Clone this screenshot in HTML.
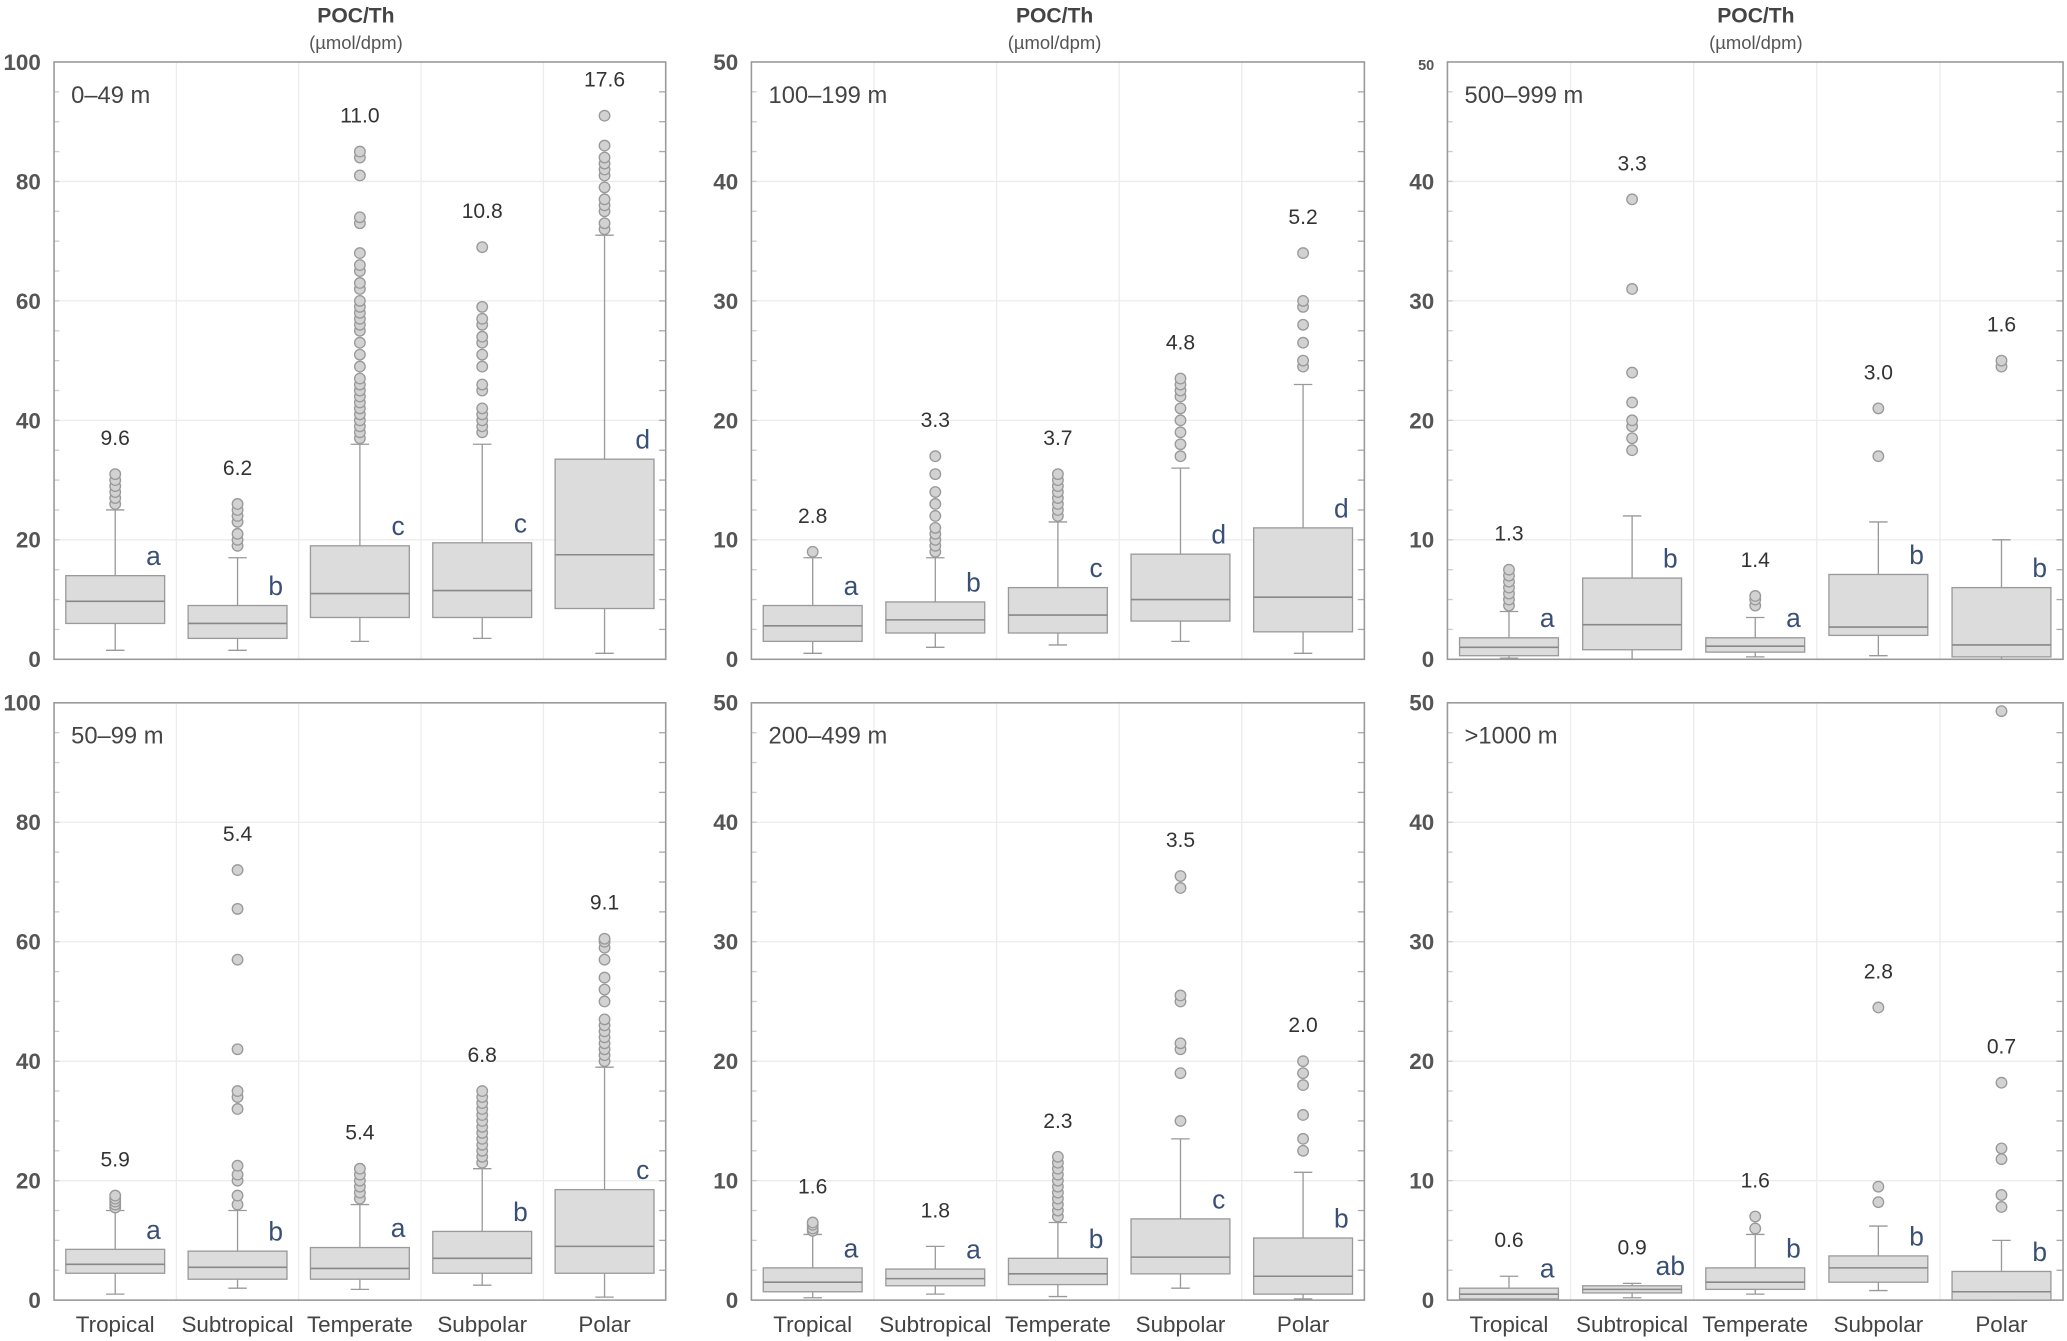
<!DOCTYPE html>
<html><head><meta charset="utf-8"><style>
html,body{margin:0;padding:0;background:#fff;}
svg{display:block;font-family:"Liberation Sans",sans-serif;}
</style></head><body>
<svg id="chart" width="2067" height="1341" viewBox="0 0 1568 1017" preserveAspectRatio="none" xmlns="http://www.w3.org/2000/svg"></svg>
<script>
const categories = ["Tropical","Subtropical","Temperate","Subpolar","Polar"];
const panelTitles = ["0–49 m","50–99 m","100–199 m","200–499 m","500–999 m",">1000 m"];
const panelMax = [100,100,50,50,50,50];
const panelTicks = [[0,20,40,60,80,100],[0,20,40,60,80,100],[0,10,20,30,40,50],[0,10,20,30,40,50],[0,10,20,30,40,50],[0,10,20,30,40,50]];
// [q1, median, q3, whiskerLow, whiskerHigh]
const statsA = [[6,9.7,14,1.5,25],[3.5,6,9,1.5,17],[7,11,19,3,36],[7,11.5,19.5,3.5,36],[8.5,17.5,33.5,1,71]];
const statsB = [[4.5,6,8.5,1,15],[3.5,5.5,8.2,2,15],[3.5,5.3,8.8,1.8,16],[4.5,7,11.5,2.5,22],[4.5,9,18.5,0.5,39]];
const statsC = [[1.5,2.8,4.5,0.5,8.5],[2.2,3.3,4.8,1,8.5],[2.2,3.7,6,1.2,11.5],[3.2,5,8.8,1.5,16],[2.3,5.2,11,0.5,23]];
const statsD = [[0.7,1.5,2.7,0.2,5.5],[1.2,1.8,2.6,0.5,4.5],[1.3,2.2,3.5,0.3,6.5],[2.2,3.6,6.8,1,13.5],[0.5,2,5.2,0.1,10.7]];
const statsE = [[0.3,1,1.8,0.1,4],[0.8,2.9,6.8,0,12],[0.6,1.1,1.8,0.2,3.5],[2,2.7,7.1,0.3,11.5],[0.2,1.2,6,0,10]];
const statsF = [[0.1,0.5,1,0,2],[0.6,0.9,1.2,0.2,1.4],[0.9,1.5,2.7,0.5,5.5],[1.5,2.7,3.7,0.8,6.2],[0,0.7,2.4,0,5]];
const outA = [[26,27,28,29,30,31],[19,20,21,23,24,25,26],[37,38,39,40,41,42,43,44,45,46,47,49,51,53,55,56,57,58,59,60,62,63,65,66,68,73,74,81,84,85],[38,39,40,41,42,45,46,49,51,53,54,56,57,59,69],[72,73,75,76,77,79,81,82,83,84,86,91]];
const outB = [[15.5,16,16.5,17,17.5],[16,17.5,20,21,22.5,32,34,35,42,57,65.5,72],[17,18,19,20,21,22],[23,24,25,26,27,28,29,30,31,32,33,34,35],[40,41,42,43,44,45,46,47,50,52,54,57,59,60,60.5]];
const outC = [[9],[9,9.5,10,10.5,11,12,13,14,15.5,17],[12,12.5,13,13.5,14,14.5,15,15.5],[17,18,19,20,21,22,22.5,23,23.5],[24.5,25,26.5,28,29.5,30,34]];
const outD = [[5.8,6,6.3,6.5],[],[7,7.5,8,8.5,9,9.5,10,10.5,11,11.5,12],[15,19,21,21.5,25,25.5,34.5,35.5],[12.5,13.5,15.5,18,19,20]];
const outE = [[4.5,5,5.5,6,6.5,7,7.5],[17.5,18.5,19.5,20,21.5,24,31,38.5],[4.5,5,5.3],[17,21],[24.5,25]];
const outF = [[],[],[6,7],[8.2,9.5,24.5],[7.8,8.8,11.8,12.7,18.2,49.3]];
const meansA = ["9.6","6.2","11.0","10.8","17.6"];
const meansB = ["5.9","5.4","5.4","6.8","9.1"];
const meansC = ["2.8","3.3","3.7","4.8","5.2"];
const meansD = ["1.6","1.8","2.3","3.5","2.0"];
const meansE = ["1.3","3.3","1.4","3.0","1.6"];
const meansF = ["0.6","0.9","1.6","2.8","0.7"];
const lettersA = ["a","b","c","c","d"];
const lettersB = ["a","b","a","b","c"];
const lettersC = ["a","b","c","d","d"];
const lettersD = ["a","a","b","c","b"];
const lettersE = ["a","b","a","b","b"];
const lettersF = ["a","ab","b","b","b"];

const allStats=[statsA,statsB,statsC,statsD,statsE,statsF];
const allOut=[outA,outB,outC,outD,outE,outF];
const allMeans=[meansA,meansB,meansC,meansD,meansE,meansF];
const allLetters=[lettersA,lettersB,lettersC,lettersD,lettersE,lettersF];
const colX=[[41,505],[570,1035],[1098,1565]];
const rowY=[[47,500],[533,986]];
const NS="http://www.w3.org/2000/svg";
const svg=document.getElementById('chart');
function mk(tag,attrs,parent,text){const e=document.createElementNS(NS,tag);for(const k in attrs)e.setAttribute(k,attrs[k]);if(text!==undefined)e.textContent=text;(parent||svg).appendChild(e);return e;}

const colCenters=[270,800,1332];
colCenters.forEach((cx,i)=>{
  const t=mk('text',{x:cx,y:17,'text-anchor':'middle','font-size':16,'font-weight':'bold',fill:'#444'},svg,'POC/Th');
  
  
  const u=mk('text',{x:cx,y:37,'text-anchor':'middle','font-size':14,fill:'#555'},svg,'(µmol/dpm)');
  
  
});

for(let p=0;p<6;p++){
  const col=Math.floor(p/2), row=p%2;
  const [x0,x1]=colX[col], [y0,y1]=rowY[row];
  const g=mk('g',{});
  
  
  const max=panelMax[p];
  const ys=v=>y1-(v/max)*(y1-y0);
  const step=(x1-x0)/categories.length;
  const xc=i=>x0+step*(i+0.5);
  panelTicks[p].forEach(t=>{
    if(t>0&&t<max) mk('line',{x1:x0,x2:x1,y1:ys(t),y2:ys(t),stroke:'#ececec','stroke-width':1},g);
  });
  for(let i=1;i<categories.length;i++) mk('line',{x1:x0+step*i,x2:x0+step*i,y1:y0,y2:y1,stroke:'#ececec','stroke-width':1},g);
  const minorStep=max/20;
  for(let v=minorStep;v<max;v+=minorStep){
    mk('line',{x1:x1-5,x2:x1,y1:ys(v),y2:ys(v),stroke:'#aaa','stroke-width':1},g);
    mk('line',{x1:x0,x2:x0+4,y1:ys(v),y2:ys(v),stroke:'#ccc','stroke-width':1},g);
  }
  const fr=mk('rect',{x:x0,y:y0,width:x1-x0,height:y1-y0,fill:'none',stroke:'#999','stroke-width':1.2},g);
  
  
  panelTicks[p].forEach(t=>{
    const small=(p===4&&t===max);
    const tl=mk('text',{x:x0-10,y:ys(t)+6,'text-anchor':'end','font-size':small?11:17,'font-weight':'bold',fill:'#555'},g,String(t));
    
    
  });
  const pt=mk('text',{x:x0+13,y:y0+31,'font-size':18,fill:'#444'},g,panelTitles[p]);
  
  
  const bw=75;
  categories.forEach((c,i)=>{
    const [q1,med,q3,wl,wh]=allStats[p][i];
    const cx=xc(i);
    const bg=mk('g',{},g);
    
    
    mk('line',{x1:cx,x2:cx,y1:ys(wl),y2:ys(q1),stroke:'#999'},bg);
    mk('line',{x1:cx,x2:cx,y1:ys(q3),y2:ys(wh),stroke:'#999'},bg);
    mk('line',{x1:cx-7,x2:cx+7,y1:ys(wl),y2:ys(wl),stroke:'#999'},bg);
    mk('line',{x1:cx-7,x2:cx+7,y1:ys(wh),y2:ys(wh),stroke:'#999'},bg);
    mk('rect',{x:cx-bw/2,y:ys(q3),width:bw,height:Math.max(1,ys(q1)-ys(q3)),fill:'#dcdcdc',stroke:'#9a9a9a','stroke-width':1},bg);
    mk('line',{x1:cx-bw/2,x2:cx+bw/2,y1:ys(med),y2:ys(med),stroke:'#888','stroke-width':1.2},bg);
    const outs=allOut[p][i];
    outs.forEach(o=>{
      const ci=mk('circle',{cx:cx,cy:ys(o),r:4,fill:'#d2d2d2',stroke:'#999','stroke-width':1},bg);
      
      
    });
    const near=outs.filter(o=>o<max*0.95);
    const top=Math.max(wh,...near);
    const ml=mk('text',{x:cx,y:ys(top)-22,'text-anchor':'middle','font-size':16,fill:'#333'},bg,allMeans[p][i]);
    
    
    const lt=mk('text',{x:cx+29,y:ys(q3)-8,'text-anchor':'middle','font-size':20,fill:'#3a4f75'},bg,allLetters[p][i]);
    
    
    if(row===1){
      const xl=mk('text',{x:cx,y:y1+24,'text-anchor':'middle','font-size':17,fill:'#444'},g,c);
      
      
    }
  });
}
</script>
</body></html>
